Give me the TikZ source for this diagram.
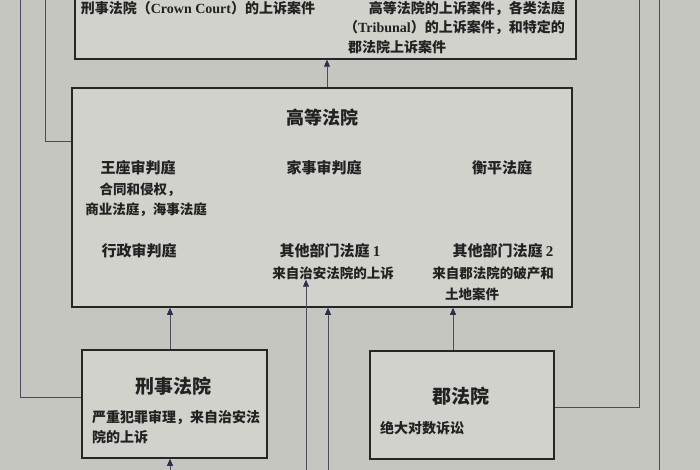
\documentclass[tikz,border=0pt]{standalone}
\usepackage{fontspec}
\setmainfont{Liberation Serif}
\newfontfamily\cjk{Noto Sans CJK SC}
\usetikzlibrary{arrows.meta}
\definecolor{bg}{RGB}{198,198,193}
\definecolor{boxfill}{RGB}{210,210,205}
\definecolor{ln}{RGB}{72,76,92}
\definecolor{tip}{RGB}{40,48,78}
\definecolor{txt}{RGB}{34,34,34}
\newcommand{\fs}[1]{\fontsize{#1}{#1}\selectfont}
\begin{document}
\begin{tikzpicture}[x=1pt,y=-1pt,
  box/.style={draw=black!85, line width=1.5pt, fill=boxfill, inner sep=0pt},
  conn/.style={draw=ln, line width=0.8pt},
  arr/.style={conn, -{Triangle[length=7pt,width=6pt,color=tip]}},
  lbl/.style={text=txt, inner sep=0pt, font=\cjk\bfseries},
  big/.style={lbl, font=\cjk\bfseries\fs{18}},
  mid/.style={lbl, font=\cjk\bfseries\fs{15}},
  small/.style={lbl, font=\cjk\bfseries\fs{13.5}}]
\fill[bg] (0,0) rectangle (700,470);
\clip (0,0) rectangle (700,470);

% boxes
\node[box, minimum width=501pt, minimum height=140pt] (top) at (325.5,-11) {};
\node[box, minimum width=500pt, minimum height=219pt] (hc) at (322,197.5) {};
\node[box, minimum width=185pt, minimum height=108pt] (crown) at (174.5,404) {};
\node[box, minimum width=184pt, minimum height=108pt] (county) at (462,405) {};

% top box text
\node[small, font=\cjk\bfseries\fs{14}] (t1) at (198,8) {刑事法院（{\rmfamily Crown Court}）的上诉案件};
\node[small, font=\cjk\bfseries\fs{14}, anchor=east] (t2) at (565,8) {高等法院的上诉案件，各类法庭};
\node[small, font=\cjk\bfseries\fs{14}, anchor=east] (t3) at (565,28) {（{\rmfamily Tribunal}）的上诉案件，和特定的};
\node[small, font=\cjk\bfseries\fs{14}, anchor=west] (t4) at (348,47) {郡法院上诉案件};

% high court text
\node[big] (hct) at (322,118) {高等法院};
\node[mid] (qb) at (138,168) {王座审判庭};
\node[small] (qb1) at (140,190) {合同和侵权，};
\node[small] (qb2) at (146,210) {商业法庭，海事法庭};
\node[mid] (fam) at (324,168) {家事审判庭};
\node[mid] (ch) at (502,168) {衡平法庭};
\node[mid] (adm) at (139,251) {行政审判庭};
\node[mid] (o1) at (330,251) {其他部门法庭 {\rmfamily 1}};
\node[small] (o1a) at (333,273) {来自治安法院的上诉};
\node[mid] (o2) at (503,251) {其他部门法庭 {\rmfamily 2}};
\node[small] (o2a) at (493,273) {来自郡法院的破产和};
\node[small, anchor=west] (o2b) at (445,294) {土地案件};

% lower boxes text
\node[lbl, font=\cjk\bfseries\fs{19}] (crt) at (173,386) {刑事法院};
\node[small, font=\cjk\bfseries\fs{14}, anchor=west] (cr1) at (92,417) {严重犯罪审理，来自治安法};
\node[small, font=\cjk\bfseries\fs{14}, anchor=west] (cr2) at (92,437) {院的上诉};
\node[lbl, font=\cjk\bfseries\fs{19}] (cot) at (461,396) {郡法院};
\node[small, font=\cjk\bfseries\fs{14}, anchor=west] (co1) at (380,428) {绝大对数诉讼};

% helper coordinates
\coordinate (xa) at (327,0);
\coordinate (xb) at (170,0);
\coordinate (xc) at (328,0);
\coordinate (xd) at (453,0);
\coordinate (xe) at (306,0);
\coordinate (bot) at (0,480);
\coordinate (up) at (0,-20);

% connectors
\draw[arr] (hc.north -| xa) -- (top.south -| xa);
\draw[arr] (crown.north -| xb) -- (hc.south -| xb);
\draw[arr] (bot -| xb) -- (crown.south -| xb);
\draw[arr] (bot -| xc) -- (hc.south -| xc);
\draw[arr] (county.north -| xd) -- (hc.south -| xd);
\draw[arr] (bot -| xe) -- (o1a.south -| xe);

% loops to the court above
\draw[conn] (hc.west |- 0,141) -- (45,141) -- (up -| 45,0);
\draw[conn] (crown.west |- 0,397) -- (20,397) -- (up -| 20,0);
\draw[conn] (county.east |- 0,407) -- (639,407) -- (up -| 639,0);
\draw[conn] (bot -| 659,0) -- (up -| 659,0);
\end{tikzpicture}
\end{document}
